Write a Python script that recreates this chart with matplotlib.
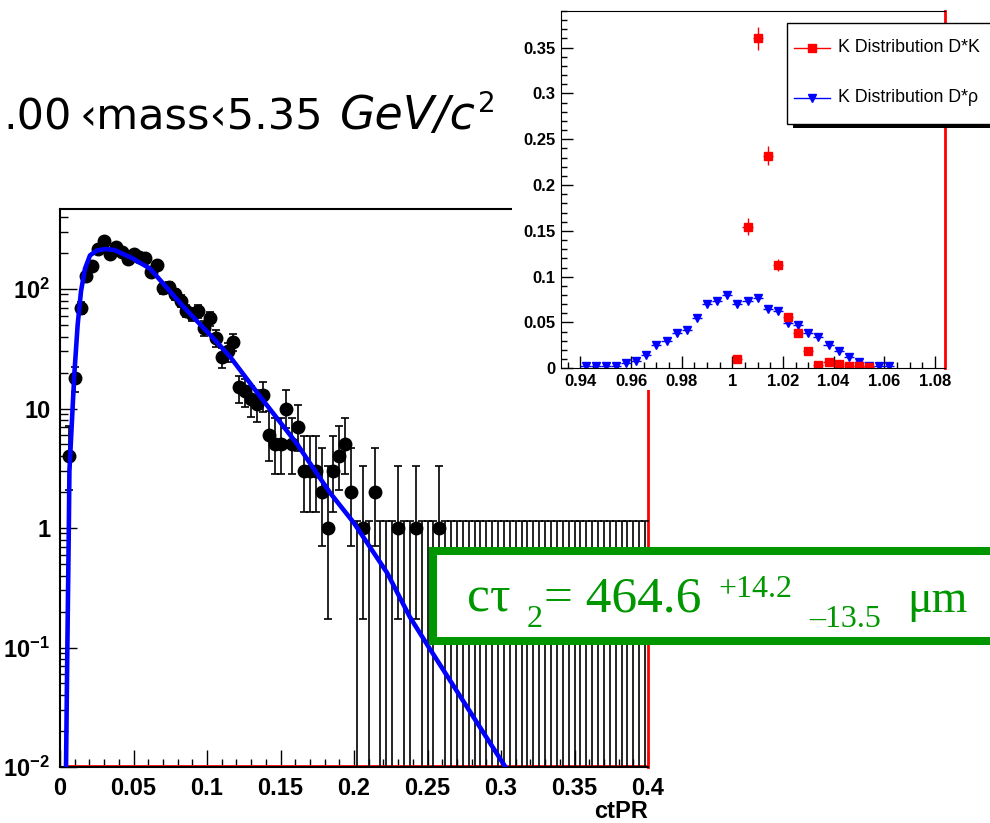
import numpy as np
import matplotlib
matplotlib.use("Agg")
import matplotlib.pyplot as plt
from matplotlib.patches import Rectangle
from matplotlib.lines import Line2D
from matplotlib.ticker import FixedLocator, MultipleLocator, NullFormatter, FormatStrFormatter

plt.rcParams['mathtext.fontset'] = 'custom'
plt.rcParams['mathtext.rm'] = 'Liberation Sans:bold'
plt.rcParams['mathtext.it'] = 'Liberation Sans:bold'
plt.rcParams['mathtext.bf'] = 'Liberation Sans:bold'

W, H = 990, 823

# --- main histogram: ctPR, bins of 0.004 from 0 to 0.4 (counts for bins 1..99) ---
bin_width = 0.004
counts = [4, 18, 70, 128, 156, 217, 252, 198, 224, 204,
          178, 197, 185, 180, 140, 160, 101, 104, 90, 80,
          66, 62, 65, 47, 57, 39, 27, 30, 36, 15,
          14, 12, 11, 13, 6, 5, 5, 10, 5, 7,
          3, 3, 3, 2, 1, 3, 4, 5, 2, 0,
          1, 0, 2, 0, 0, 0, 1, 0, 0, 1,
          0, 0, 0, 1] + [0] * 35
empty_err_up = 1.15

# poisson intervals for small counts (lower, upper)
poisson_lo = [0, 0.173, 0.708, 1.367, 2.086, 2.840, 3.620, 4.419, 5.232, 6.057, 6.891]
poisson_hi = [1.15, 3.300, 4.638, 5.918, 7.163, 8.382, 9.584, 10.77, 11.95, 13.11, 14.27]

# blue fit curve
fit_x = [0.0041, 0.0050, 0.0060, 0.0064, 0.0097, 0.0120, 0.0143, 0.0170, 0.0204,
         0.0250, 0.0310, 0.0370, 0.0488, 0.0613, 0.0840, 0.1067, 0.1158, 0.1370,
         0.1610, 0.1770, 0.1840, 0.2000, 0.2226, 0.2380, 0.2510, 0.3030]
fit_y = [0.01, 0.1, 1, 3, 19, 50, 96, 148, 191,
         210, 216, 212, 182, 148, 71, 36, 27, 12.2,
         5.1, 2.6, 1.95, 1.1, 0.42, 0.18, 0.1, 0.01]

# --- inset: K distributions ---
dk_x = [1.002, 1.006, 1.010, 1.014, 1.018, 1.022, 1.026, 1.030, 1.034, 1.038, 1.042, 1.046, 1.050, 1.054]
dk_y = [0.0098, 0.1546, 0.360, 0.2318, 0.1128, 0.0564, 0.038, 0.0192, 0.0033, 0.0069, 0.005, 0.002, 0.003, 0.001]
dk_err = [0.002, 0.009, 0.0127, 0.0104, 0.0067, 0.004, 0.003, 0.002, 0.001, 0.0015, 0.0013, 0.0008, 0.001, 0.0005]

drho_x = [0.942, 0.946, 0.950, 0.954, 0.958, 0.962, 0.966, 0.970, 0.974, 0.978, 0.982, 0.986,
          0.990, 0.994, 0.998, 1.002, 1.006, 1.010, 1.014, 1.018, 1.022, 1.026, 1.030, 1.034,
          1.038, 1.042, 1.046, 1.050, 1.054, 1.058, 1.062]
drho_y = [0.002, 0.002, 0.002, 0.003, 0.006, 0.008, 0.0145, 0.0254, 0.030, 0.0389, 0.0418, 0.0553,
          0.0702, 0.0735, 0.080, 0.0702, 0.0735, 0.077, 0.065, 0.063, 0.0498, 0.047, 0.0389, 0.0338,
          0.0254, 0.0192, 0.012, 0.0074, 0.003, 0.002, 0.002]


def fx(px):
    return px / W


def fy(py):
    return 1 - py / H


fig = plt.figure(figsize=(W / 100, H / 100), dpi=100)

# ---------------- main plot ----------------
ax = fig.add_axes([fx(60), fy(767), (648 - 60) / W, (767 - 209) / H])
ax.set_yscale('log')
ax.set_xlim(0, 0.4)
ax.set_ylim(0.01, 10 ** (-2 + (767 - 209) / 119.5))

counts = np.array(counts)
centers = (np.arange(1, 100) + 0.5) * bin_width
full = counts > 0
n = counts[full]
lo = np.array([poisson_lo[k] if k <= 10 else k - np.sqrt(k) for k in n])
hi = np.array([poisson_hi[k] if k <= 10 else k + np.sqrt(k) for k in n])
ax.errorbar(centers[full], n, yerr=[n - lo, hi - n], fmt='o', color='black', ms=9,
            elinewidth=1.2, capsize=3, capthick=1.2, zorder=3)

xe = centers[~full]
ye = np.full(len(xe), empty_err_up)
ax.errorbar(xe, ye, yerr=[ye - 1e-4, 0 * ye], fmt='none', ecolor='black',
            elinewidth=1.2, capsize=3, capthick=1.2, zorder=3)

ax.plot(fit_x, fit_y, color='#0000ff', lw=3.3, zorder=4)
ax.plot([0.006, 0.4], [0.0102, 0.0102], color='red', lw=2, zorder=2)

ax.yaxis.set_major_locator(FixedLocator([0.01, 0.1, 1, 10, 100]))
ax.set_yticklabels([r'$10^{-2}$', r'$10^{-1}$', '1', '10', r'$10^{2}$'])
ax.xaxis.set_major_locator(MultipleLocator(0.05))
ax.xaxis.set_minor_locator(MultipleLocator(0.01))
ax.xaxis.set_major_formatter(FormatStrFormatter('%g'))
ax.yaxis.set_minor_formatter(NullFormatter())
ax.tick_params(which='both', direction='in', top=False, right=False, width=1)
ax.tick_params(which='major', length=12, labelsize=17, pad=7)
ax.tick_params(which='minor', length=6)
for lab in ax.get_xticklabels() + ax.get_yticklabels():
    lab.set_fontfamily('Liberation Sans')
    lab.set_fontweight('bold')
for s in ['left', 'top', 'bottom']:
    ax.spines[s].set_linewidth(1.5)
ax.spines['right'].set_color('red')
ax.spines['right'].set_linewidth(2)

fig.text(fx(648), fy(818), 'ctPR', ha='right', va='baseline', fontsize=17,
         fontweight='bold', family='Liberation Sans')

# title fragment
fig.text(fx(3), fy(129), '.00', fontsize=31, va='baseline', family='DejaVu Sans')
fig.text(fx(80), fy(129), '\u2039mass\u20395.35', fontsize=31, va='baseline', family='DejaVu Sans')
fig.text(fx(340), fy(129), 'GeV/c', fontsize=33, va='baseline', family='DejaVu Sans', style='italic')
fig.text(fx(478), fy(112), '2', fontsize=20, va='baseline', family='DejaVu Sans')

# ---------------- inset ----------------
fig.add_artist(Rectangle((fx(512), fy(390)), 1, 390 / H, transform=fig.transFigure,
                         facecolor='white', edgecolor='none', zorder=1))

axi = fig.add_axes([fx(560.7), fy(368.3), (945 - 560.7) / W, (368.3 - 11) / H], zorder=2)
axi.set_xlim(0.9322, 1.084)
axi.set_ylim(0, 0.39)
axi.errorbar(drho_x, drho_y, xerr=0.002, yerr=0.0015, fmt='v', color='#0000ff', ms=5.5,
             elinewidth=1, capsize=0)
axi.errorbar(dk_x, dk_y, xerr=0.002, yerr=dk_err, fmt='s', color='red', ms=5.2,
             elinewidth=1, capsize=0)
axi.xaxis.set_major_locator(MultipleLocator(0.02))
axi.xaxis.set_minor_locator(MultipleLocator(0.005))
axi.yaxis.set_major_locator(MultipleLocator(0.05))
axi.yaxis.set_minor_locator(MultipleLocator(0.01))
axi.xaxis.set_major_formatter(FormatStrFormatter('%g'))
axi.yaxis.set_major_formatter(FormatStrFormatter('%g'))
axi.tick_params(which='both', direction='in', top=False, right=False, width=1)
axi.tick_params(which='major', length=8.5, labelsize=12, pad=4)
axi.tick_params(which='minor', length=4.5)
for lab in axi.get_xticklabels() + axi.get_yticklabels():
    lab.set_fontfamily('Liberation Sans')
    lab.set_fontweight('bold')
axi.spines['right'].set_color('red')
axi.spines['right'].set_linewidth(2)

# legend box (cut at the image edge)
fig.add_artist(Rectangle((fx(793), fy(128)), 1, (128 - 27) / H, transform=fig.transFigure,
                         facecolor='black', edgecolor='none', zorder=3))
fig.add_artist(Rectangle((fx(787), fy(124)), 1, (124 - 23) / H, transform=fig.transFigure,
                         facecolor='white', edgecolor='black', lw=1, zorder=3))
fig.add_artist(Line2D([fx(794), fx(812), fx(830)], [fy(48), fy(48), fy(48)], color='red', lw=1,
                      marker='s', markevery=[1], ms=5.2, zorder=4))
fig.add_artist(Line2D([fx(794), fx(812), fx(830)], [fy(98), fy(98), fy(98)], color='#0000ff', lw=1,
                      marker='v', markevery=[1], ms=5.5, zorder=4))
fig.text(fx(838), fy(48), 'K Distribution D*K', va='center', fontsize=12.8,
         family='Liberation Sans', zorder=5)
fig.text(fx(838), fy(98), 'K Distribution D*\u03c1', va='center', fontsize=12.8,
         family='Liberation Sans', zorder=5)

# ---------------- green result box ----------------
green = '#009600'
fig.add_artist(Rectangle((fx(432.5), fy(641)), 1, (641 - 551) / H, transform=fig.transFigure,
                         facecolor='white', edgecolor=green, lw=5.8, zorder=6))
serif = 'Liberation Serif'
fig.text(fx(467), fy(612), 'c\u03c4', fontsize=37, color=green, family=serif, va='baseline', zorder=7)
fig.text(fx(527), fy(627), '2', fontsize=23, color=green, family=serif, va='baseline', zorder=7)
fig.text(fx(544), fy(612), '= 464.6', fontsize=37, color=green, family=serif, va='baseline', zorder=7)
fig.text(fx(718), fy(597), '+14.2', fontsize=23, color=green, family=serif, va='baseline', zorder=7)
fig.text(fx(809), fy(627), '\u201313.5', fontsize=23, color=green, family=serif, va='baseline', zorder=7)
fig.text(fx(907), fy(612), '\u03bcm', fontsize=33, color=green, family=serif, va='baseline', zorder=7)

fig.savefig('out.png', dpi=100)
